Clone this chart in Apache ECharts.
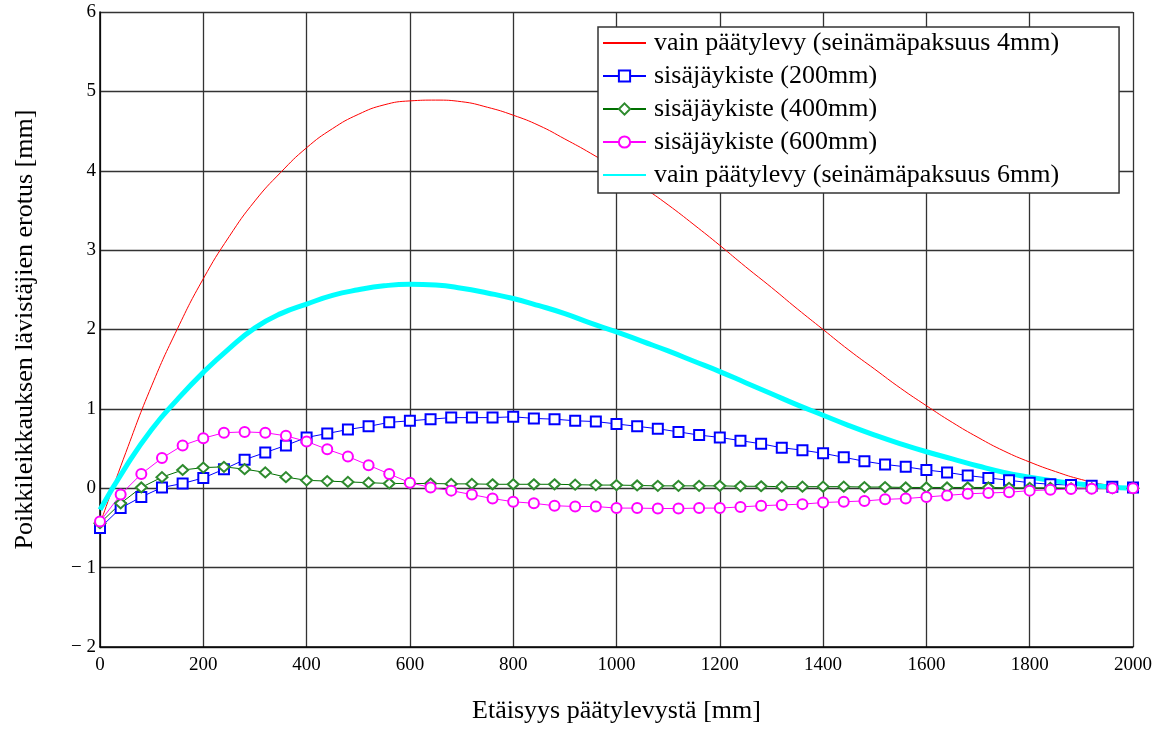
<!DOCTYPE html>
<html>
<head>
<meta charset="utf-8">
<script src="https://cdn.jsdelivr.net/npm/echarts@6/dist/echarts.min.js"></script>
<style>
  html, body { margin: 0; padding: 0; background: #fff; }
  #chart { width: 1171px; height: 731px; }
</style>
</head>
<body>
<div id="chart"></div>
<script>
// x positions of the marker series (every 40 mm)
const xMarks = [0, 40, 80, 120, 160, 200, 240, 280, 320, 360, 400, 440, 480, 520, 560, 600, 640, 680, 720, 760,
  800, 840, 880, 920, 960, 1000, 1040, 1080, 1120, 1160, 1200, 1240, 1280, 1320, 1360, 1400, 1440, 1480, 1520, 1560,
  1600, 1640, 1680, 1720, 1760, 1800, 1840, 1880, 1920, 1960, 2000]

// x positions of the smooth curves (every 50 mm)
const xCurve = [0, 50, 100, 150, 200, 250, 300, 350, 400, 450, 500, 550, 600, 650, 700, 750, 800, 850, 900, 950,
  1000, 1050, 1100, 1150, 1200, 1250, 1300, 1350, 1400, 1450, 1500, 1550, 1600, 1650, 1700, 1750, 1800, 1850, 1900, 1950, 2000]

const red4mm = [-0.45, 0.45, 1.29, 2.01, 2.64, 3.17, 3.62, 3.98, 4.29, 4.53, 4.71, 4.83, 4.88, 4.89, 4.87, 4.80, 4.70, 4.57, 4.40, 4.22,
  4.02, 3.80, 3.57, 3.32, 3.06, 2.79, 2.53, 2.26, 2.00, 1.74, 1.50, 1.26, 1.04, 0.83, 0.64, 0.47, 0.33, 0.21, 0.11, 0.04, 0.0]

const cyan6mm = [-0.27, 0.27, 0.74, 1.12, 1.46, 1.76, 2.02, 2.20, 2.32, 2.43, 2.50, 2.55, 2.57, 2.56, 2.52, 2.46, 2.39, 2.30, 2.20, 2.08,
  1.97, 1.85, 1.73, 1.60, 1.47, 1.33, 1.19, 1.05, 0.92, 0.79, 0.67, 0.56, 0.46, 0.37, 0.28, 0.20, 0.14, 0.09, 0.05, 0.02, 0.0]

const blue200 = [-0.50, -0.25, -0.11, 0.01, 0.06, 0.13, 0.24, 0.36, 0.45, 0.54, 0.64, 0.69, 0.74, 0.78, 0.83, 0.85, 0.87, 0.89, 0.89, 0.89,
  0.90, 0.88, 0.87, 0.85, 0.84, 0.81, 0.78, 0.75, 0.71, 0.67, 0.64, 0.60, 0.56, 0.51, 0.48, 0.44, 0.39, 0.34, 0.30, 0.27,
  0.23, 0.20, 0.16, 0.13, 0.10, 0.07, 0.05, 0.04, 0.03, 0.02, 0.01]

const green400 = [-0.44, -0.19, 0.01, 0.14, 0.23, 0.26, 0.27, 0.24, 0.20, 0.14, 0.10, 0.09, 0.08, 0.07, 0.06, 0.06, 0.06, 0.055, 0.055, 0.05,
  0.05, 0.05, 0.05, 0.045, 0.04, 0.04, 0.035, 0.03, 0.03, 0.03, 0.03, 0.025, 0.025, 0.02, 0.02, 0.02, 0.02, 0.015, 0.015, 0.01,
  0.01, 0.01, 0.01, 0.01, 0.005, 0.005, 0.005, 0, 0, 0, 0]

const magenta600 = [-0.42, -0.08, 0.18, 0.38, 0.54, 0.63, 0.70, 0.71, 0.70, 0.66, 0.59, 0.49, 0.40, 0.29, 0.18, 0.07, 0.01, -0.03, -0.08, -0.13,
  -0.17, -0.19, -0.22, -0.23, -0.23, -0.25, -0.25, -0.255, -0.255, -0.25, -0.25, -0.235, -0.22, -0.21, -0.20, -0.18, -0.17, -0.16, -0.14, -0.13,
  -0.11, -0.09, -0.07, -0.06, -0.05, -0.03, -0.02, -0.01, -0.005, 0, 0]

const names = [
  'vain päätylevy (seinämäpaksuus 4mm)',
  'sisäjäykiste (200mm)',
  'sisäjäykiste (400mm)',
  'sisäjäykiste (600mm)',
  'vain päätylevy (seinämäpaksuus 6mm)'
]

const pairs = (xs, ys) => xs.map((x, i) => [x, ys[i]])
const serif = 'Liberation Serif, Times New Roman, serif'

const chart = echarts.init(document.getElementById('chart'))

const opt = {
  animation: false,
  textStyle: { fontFamily: serif },
  grid: { left: 100, top: 12, right: 38, bottom: 84, containLabel: false, outerBoundsMode: 'none' },
  legend: {
    orient: 'vertical',
    left: 598,
    top: 27,
    padding: [3, 60, 5, 4],
    itemWidth: 43,
    itemHeight: 14,
    itemGap: 7,
    backgroundColor: '#fff',
    borderColor: '#333',
    borderWidth: 1.5,
    borderRadius: 0,
    selectedMode: false,
    textStyle: { fontFamily: serif, fontSize: 26, lineHeight: 26, color: '#000', padding: [0, 0, 0, 3] },
    data: [
      { name: names[0], itemStyle: { opacity: 0 } },
      names[1],
      names[2],
      names[3],
      { name: names[4], itemStyle: { opacity: 0 } }
    ]
  },
  xAxis: {
    type: 'value',
    min: 0,
    max: 2000,
    interval: 200,
    name: 'Etäisyys päätylevystä [mm]',
    nameLocation: 'middle',
    nameGap: 51,
    nameTextStyle: { fontFamily: serif, fontSize: 26, color: '#000' },
    axisLine: { show: true, onZero: false, lineStyle: { color: '#000', width: 1.5 } },
    axisTick: { show: false },
    axisLabel: { fontFamily: serif, fontSize: 19, color: '#000', margin: 9, formatter: v => String(v) },
    splitLine: { show: true, lineStyle: { color: '#333', width: 1.3 } }
  },
  yAxis: {
    type: 'value',
    min: -2,
    max: 6,
    interval: 1,
    name: 'Poikkileikkauksen lävistäjien erotus [mm]',
    nameLocation: 'middle',
    nameGap: 62,
    nameTextStyle: { fontFamily: serif, fontSize: 26, color: '#000' },
    axisLine: { show: true, onZero: false, lineStyle: { color: '#000', width: 1.5 } },
    axisTick: { show: false },
    axisLabel: {
      fontFamily: serif, fontSize: 19, color: '#000', margin: 4,
      formatter: v => (v < 0 ? '\u2212 ' + (-v) : String(v))
    },
    splitLine: { show: true, lineStyle: { color: '#333', width: 1.3 } }
  },
  series: [
    {
      name: names[0],
      type: 'line',
      smooth: true,
      symbol: 'none',
      data: pairs(xCurve, red4mm),
      lineStyle: { color: '#ff0000', width: 1 },
      itemStyle: { color: '#ff0000' }
    },
    {
      name: names[1],
      type: 'line',
      symbol: 'emptyRect',
      symbolSize: 10,
      data: pairs(xMarks, blue200),
      lineStyle: { color: '#0000ff', width: 1 },
      itemStyle: { color: '#0000ff', borderWidth: 1.3 }
    },
    {
      name: names[2],
      type: 'line',
      symbol: 'emptyDiamond',
      symbolSize: [11, 10],
      data: pairs(xMarks, green400),
      lineStyle: { color: '#007000', width: 1 },
      itemStyle: { color: '#2e8b2e', borderWidth: 1 }
    },
    {
      name: names[3],
      type: 'line',
      symbol: 'emptyCircle',
      symbolSize: 10,
      data: pairs(xMarks, magenta600),
      lineStyle: { color: '#ff00ff', width: 1 },
      itemStyle: { color: '#ff00ff', borderWidth: 1 }
    },
    {
      name: names[4],
      type: 'line',
      smooth: true,
      symbol: 'none',
      data: pairs(xCurve, cyan6mm),
      lineStyle: { color: '#00ffff', width: 5 },
      itemStyle: { color: '#00ffff' }
    }
  ]
}

chart.setOption(opt)
window.addEventListener('resize', function () {
  chart.resize()
})
</script>
</body>
</html>
